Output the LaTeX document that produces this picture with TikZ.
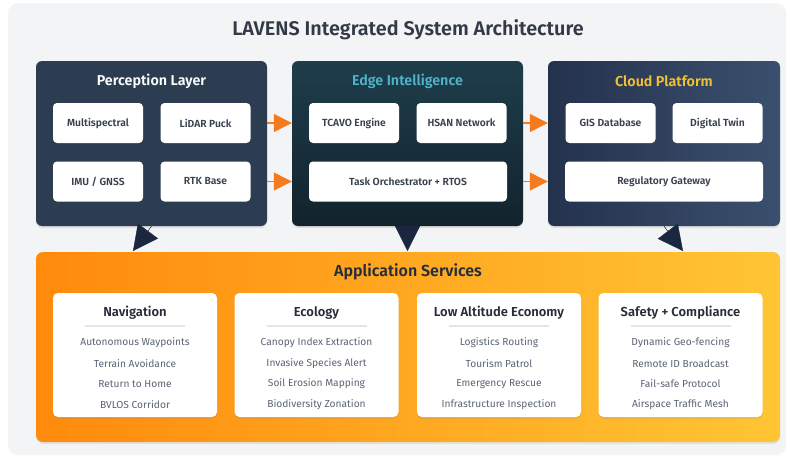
\documentclass[tikz,border=0pt]{standalone}
\usepackage{fontspec}
\setmainfont{Fira Sans}[BoldFont={Fira Sans SemiBold}]
\usetikzlibrary{arrows.meta,shadows}

\definecolor{panelgray}{HTML}{F2F4F6}
\definecolor{percblue}{HTML}{2C3D52}
\definecolor{edgetop}{HTML}{1E3E4B}
\definecolor{edgebot}{HTML}{12232D}
\definecolor{cloudleft}{HTML}{24324D}
\definecolor{cloudright}{HTML}{3B506E}
\definecolor{edgeteal}{HTML}{4DB4C9}
\definecolor{cloudgold}{HTML}{F2C230}
\definecolor{apporange}{HTML}{FF8A0C}
\definecolor{appyellow}{HTML}{FFC535}
\definecolor{flowarrow}{HTML}{F57A1F}
\definecolor{downarrow}{HTML}{1B2640}
\definecolor{parttext}{HTML}{39414F}
\definecolor{cardtitle}{HTML}{262D38}
\definecolor{itemgray}{HTML}{5B6476}
\definecolor{sepgray}{HTML}{E2E5E9}

\tikzset{
  layer/.style={rounded corners=6pt, minimum width=231pt, minimum height=165pt,
    drop shadow={opacity=0.18, shadow xshift=0pt, shadow yshift=-2pt}},
  layertitle/.style={font=\bfseries\fontsize{14.3}{16}\selectfont},
  part/.style={fill=white, rounded corners=4pt, minimum width=90pt, minimum height=40pt,
    text=parttext, font=\bfseries\fontsize{10.3}{12}\selectfont},
  widepart/.style={part, minimum width=198pt},
  card/.style={fill=white, rounded corners=5pt, minimum width=164pt, minimum height=124pt,
    drop shadow={opacity=0.15, shadow xshift=0pt, shadow yshift=-2pt}},
  cardhead/.style={text=cardtitle, font=\bfseries\fontsize{13}{15}\selectfont},
  item/.style={text=itemgray, font=\fontsize{10.2}{12}\selectfont},
  sep/.style={draw=sepgray, line width=1.3pt},
  flow/.style={draw=flowarrow, line width=1.2pt, -{Triangle[length=18pt,width=18pt]}, flowarrow},
  feed/.style={draw=downarrow, fill=downarrow, -{Triangle[length=25pt,width=25pt]}}
}

\begin{document}
\begin{tikzpicture}[x=1pt,y=-1pt]
\useasboundingbox (0,0) rectangle (790,463);
\fill[white] (0,0) rectangle (790,463);
\fill[panelgray, rounded corners=10pt] (8,3) rectangle (786,455);
\node[text=parttext!90!black, font=\bfseries\fontsize{19.8}{22}\selectfont] (title) at (408,30) {LAVENS Integrated System Architecture};

\node[layer, fill=percblue] (perc) at (151.5,143.5) {};
\node[layer, top color=edgetop, bottom color=edgebot] (edge) at (407.5,143.5) {};
\node[layer, left color=cloudleft, right color=cloudright, minimum width=232pt] (cloud) at (664,143.5) {};

\node[layertitle, text=white] (perctitle) at (151.5,81) {Perception Layer};
\node[layertitle, text=edgeteal] (edgetitle) at (407.5,81) {Edge Intelligence};
\node[layertitle, text=cloudgold] (cloudtitle) at (664,81) {Cloud Platform};

\node[part] (multi) at (98,123) {Multispectral};
\node[part] (lidar) at (205.5,123) {LiDAR Puck};
\node[part] (imu) at (98,181.5) {IMU / GNSS};
\node[part] (rtk) at (205.5,181.5) {RTK Base};

\node[part] (tcavo) at (354,123) {TCAVO Engine};
\node[part] (hsan) at (461.5,123) {HSAN Network};
\node[widepart] (task) at (408,181.5) {Task Orchestrator + RTOS};

\node[part] (gis) at (610.5,123) {GIS Database};
\node[part] (twin) at (717.5,123) {Digital Twin};
\node[widepart] (reg) at (664,181.5) {Regulatory Gateway};

\draw[flow] (lidar -| perc.east) -- (tcavo -| edge.west);
\draw[flow] (rtk -| perc.east) -- (task -| edge.west);
\draw[flow] (hsan -| edge.east) -- (gis -| cloud.west);
\draw[flow] (task -| edge.east) -- (reg -| cloud.west);

\node[rounded corners=7pt, left color=apporange, right color=appyellow, minimum width=744pt, minimum height=190pt,
  drop shadow={opacity=0.15, shadow xshift=0pt, shadow yshift=-2pt}] (app) at (408,347) {};
\node[text=cardtitle, font=\bfseries\fontsize{16}{18}\selectfont] (apptitle) at (408,272) {Application Services};

\coordinate (percin) at (133,251);
\coordinate (edgein) at (407.5,251);
\coordinate (cloudin) at (683,251);
\draw[feed] (perc.south) -- (percin);
\draw[feed] (edge.south) -- (edgein);
\draw[feed] (cloud.south) -- (cloudin);

\node[card] (nav) at (135,355) {};
\node[cardhead] (navhead) at (135,313) {Navigation};
\draw[sep] (85,326) -- (185,326);
\node[item] (nav1) at (135,343) {Autonomous Waypoints};
\node[item] (nav2) at (135,364) {Terrain Avoidance};
\node[item] (nav3) at (135,384) {Return to Home};
\node[item] (nav4) at (135,405) {BVLOS Corridor};

\node[card] (eco) at (316.5,355) {};
\node[cardhead] (ecohead) at (316.5,313) {Ecology};
\draw[sep] (266.5,326) -- (366.5,326);
\node[item] (eco1) at (316.5,343) {Canopy Index Extraction};
\node[item] (eco2) at (316.5,364) {Invasive Species Alert};
\node[item] (eco3) at (316.5,384) {Soil Erosion Mapping};
\node[item] (eco4) at (316.5,405) {Biodiversity Zonation};

\node[card] (low) at (499,355) {};
\node[cardhead] (lowhead) at (499,313) {Low Altitude Economy};
\draw[sep] (449,326) -- (549,326);
\node[item] (low1) at (499,343) {Logistics Routing};
\node[item] (low2) at (499,364) {Tourism Patrol};
\node[item] (low3) at (499,384) {Emergency Rescue};
\node[item] (low4) at (499,405) {Infrastructure Inspection};

\node[card] (safe) at (680.5,355) {};
\node[cardhead] (safehead) at (680.5,313) {Safety + Compliance};
\draw[sep] (630.5,326) -- (730.5,326);
\node[item] (safe1) at (680.5,343) {Dynamic Geo-fencing};
\node[item] (safe2) at (680.5,364) {Remote ID Broadcast};
\node[item] (safe3) at (680.5,384) {Fail-safe Protocol};
\node[item] (safe4) at (680.5,405) {Airspace Traffic Mesh};
\end{tikzpicture}
\end{document}
